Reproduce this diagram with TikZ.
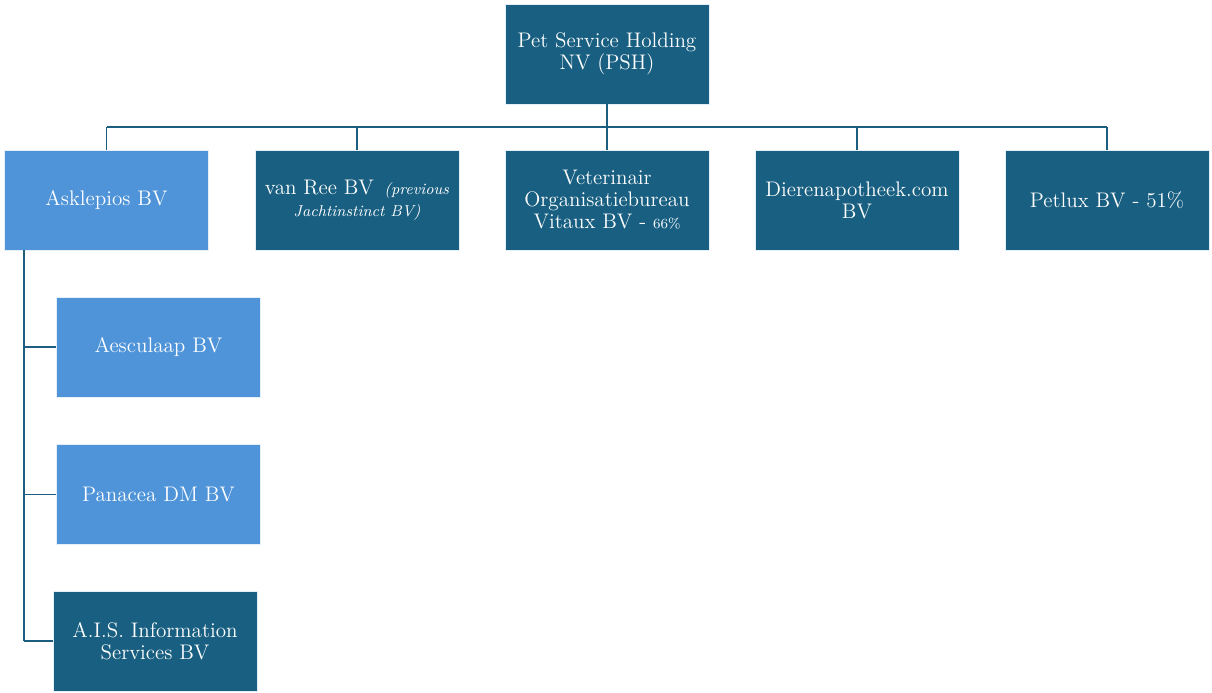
\documentclass[tikz,border=0pt]{standalone}
\definecolor{darkbox}{HTML}{195F81}
\definecolor{lightbox}{HTML}{4F94D8}
\definecolor{linecol}{HTML}{1B5E80}
\tikzset{
  org/.style={draw=white!85!lightbox,line width=.4pt,minimum width=4.08cm,minimum height=2cm,
    text=white,align=center,font=\fontsize{12}{12.5}\selectfont,inner sep=2pt},
  dark/.style={org,fill=darkbox},
  light/.style={org,fill=lightbox},
  link/.style={draw=linecol,line width=.8pt}
}
\begin{document}
\begin{tikzpicture}
\useasboundingbox (0,0) rectangle (24.24,13.86);
% top
\node[dark] (psh) at (12.14,12.78) {Pet Service Holding\\NV (PSH)};
% first row
\node[light] (askl) at (2.13,9.86) {Asklepios BV};
\node[dark] (vanree) at (7.14,9.86) {van Ree BV\enspace{\small\itshape(previous}\\{\small\itshape Jachtinstinct BV)}};
\node[dark] (vet) at (12.14,9.86) {Veterinair\\Organisatiebureau\\Vitaux BV - {\footnotesize 66\%}};
\node[dark] (dieren) at (17.14,9.86) {Dierenapotheek.com\\BV};
\node[dark] (petlux) at (22.14,9.86) {Petlux BV - 51\%};
% under Asklepios
\node[light] (aesc) at (3.17,6.92) {Aesculaap BV};
\node[light] (pana) at (3.17,3.97) {Panacea DM BV};
\node[dark] (ais) at (3.10,1.04) {A.I.S. Information\\Services BV};
% connectors
\coordinate (bus) at (0,11.32);
\coordinate (spine) at (0.48,0);
\draw[link] (psh.south) -- (psh.south |- bus);
\draw[link] (askl.north |- bus) -- (petlux.north |- bus);
\foreach \n in {askl,vanree,vet,dieren,petlux}
  \draw[link] (\n.north) -- (\n.north |- bus);
\draw[link] (spine |- askl.south) -- (spine |- ais.west);
\foreach \n in {aesc,pana,ais}
  \draw[link] (spine |- \n.west) -- (\n.west);
\end{tikzpicture}
\end{document}
